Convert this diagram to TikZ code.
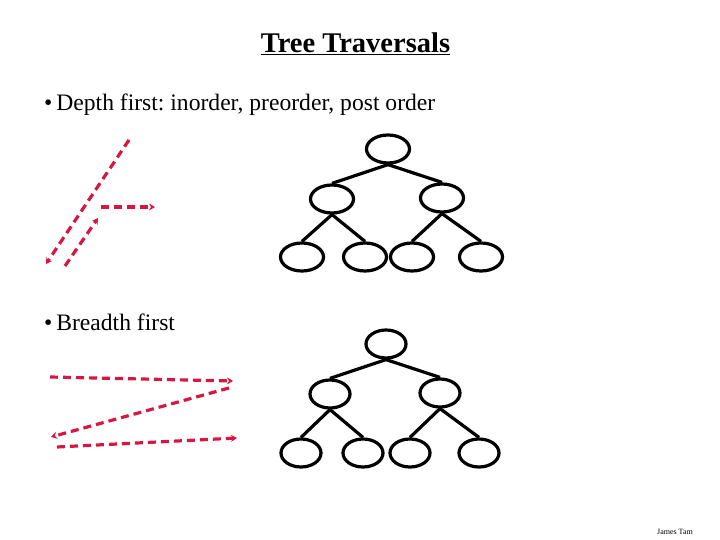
\documentclass[tikz,border=0pt]{standalone}
\usepackage{fontspec}
\setmainfont{Liberation Serif}
\usetikzlibrary{arrows.meta,shapes.geometric}
\definecolor{dashred}{RGB}{214,24,64}
\frenchspacing
\begin{document}
\begin{tikzpicture}[x=1pt,y=-1pt,
  tnode/.style={draw=black,line width=3.2pt,ellipse,inner sep=0pt},
  tnodeA/.style={tnode,minimum width=43pt,minimum height=28pt},
  tnodeB/.style={tnode,minimum width=40pt,minimum height=28pt},
  tedge/.style={line width=3.2pt,black},
  trav/.style={dashred,line width=3.2pt,dash pattern=on 8pt off 5pt,-{Stealth[length=6pt,width=7pt]}},
  bodytext/.style={font=\fontsize{23.6}{28}\selectfont,anchor=base west,inner sep=0pt}]
\useasboundingbox (0,0) rectangle (720,540);
\fill[white] (0,0) rectangle (720,540);
% title
\node[font=\bfseries\fontsize{28.5}{32}\selectfont,anchor=base,inner sep=0pt] (title) at (355.5,53) {\underline{Tree Traversals}};
\node[bodytext] (depth) at (44,111) {\textbullet\,Depth first: inorder, preorder, post order};
\node[bodytext] (breadth) at (44,330) {\textbullet\,Breadth first};
% tree 1
\node[tnodeA] (r1) at (388,149) {};
\node[tnodeA] (a1) at (332,199) {};
\node[tnodeA] (b1) at (442,198) {};
\node[tnodeA] (c1) at (302,257) {};
\node[tnodeA] (d1) at (365,257) {};
\node[tnodeA] (e1) at (412,257) {};
\node[tnodeA] (f1) at (481,257) {};
\draw[tedge] (r1.south) -- (a1.north);
\draw[tedge] (r1.south) -- (b1.north);
\draw[tedge] (a1.south) -- (c1.north);
\draw[tedge] (a1.south) -- (d1.north);
\draw[tedge] (b1.south) -- (e1.north);
\draw[tedge] (b1.south) -- (f1.north);
% tree 2
\node[tnodeB] (r2) at (386,344) {};
\node[tnodeB] (a2) at (330,394) {};
\node[tnodeB] (b2) at (440,393) {};
\node[tnodeB] (c2) at (301,453) {};
\node[tnodeB] (d2) at (363,453) {};
\node[tnodeB] (e2) at (410,453) {};
\node[tnodeB] (f2) at (479,453) {};
\draw[tedge] (r2.south) -- (a2.north);
\draw[tedge] (r2.south) -- (b2.north);
\draw[tedge] (a2.south) -- (c2.north);
\draw[tedge] (a2.south) -- (d2.north);
\draw[tedge] (b2.south) -- (e2.north);
\draw[tedge] (b2.south) -- (f2.north);
% depth-first arrows
\coordinate (p1s) at (129,140);
\coordinate (p1e) at (46,264);
\coordinate (p2s) at (65,266);
\coordinate (p2e) at (98,218);
\coordinate (p3s) at (101,207);
\coordinate (p3e) at (155,207);
\draw[trav] (p1s) -- (p1e);
\draw[trav] (p2s) -- (p2e);
\draw[trav] (p3s) -- (p3e);
% breadth-first arrows
\coordinate (q1s) at (50,377);
\coordinate (q1e) at (233,381);
\coordinate (q2s) at (229,388);
\coordinate (q2e) at (51,437);
\coordinate (q3s) at (57,447);
\coordinate (q3e) at (237,438);
\draw[trav] (q1s) -- (q1e);
\draw[trav] (q2s) -- (q2e);
\draw[trav] (q3s) -- (q3e);
% footer
\node[font=\fontsize{8}{9}\selectfont,anchor=base,inner sep=0pt] (footer) at (675,534) {James Tam};
\end{tikzpicture}
\end{document}
